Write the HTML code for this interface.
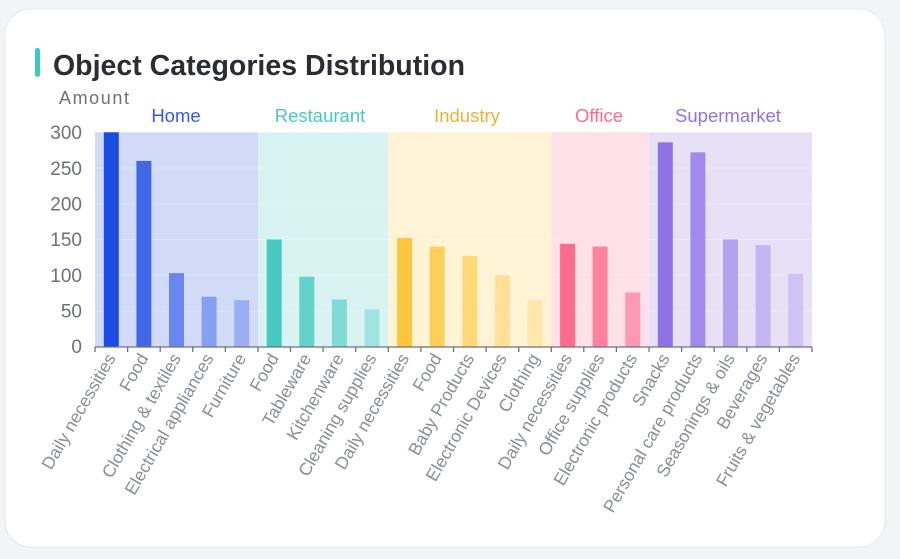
<!DOCTYPE html>
<html><head><meta charset="utf-8"><style>
html,body{margin:0;padding:0;width:900px;height:559px;background:#f3f4f5;overflow:hidden}
svg{display:block;font-family:"Liberation Sans","DejaVu Sans",sans-serif}
</style></head><body>
<svg width="900" height="559" viewBox="0 0 900 559" xmlns="http://www.w3.org/2000/svg">
<rect x="5" y="9" width="880" height="538" rx="26" fill="#fff" stroke="#e6e8ec"/>
<rect x="35" y="48" width="5" height="29" rx="2.5" fill="#3fc8bd"/>
<text x="53" y="75" font-size="28.5" font-weight="bold" fill="#2b2d33" textLength="412">Object Categories Distribution</text>
<text x="59" y="104" font-size="18" fill="#6e7079" textLength="70">Amount</text>
<rect x="95" y="132.3" width="163" height="214.4" fill="#d1dbf8"/>
<rect x="258" y="132.3" width="130.3" height="214.4" fill="#d8f3f2"/>
<rect x="388.3" y="132.3" width="163" height="214.4" fill="#fff3d6"/>
<rect x="551.3" y="132.3" width="97.8" height="214.4" fill="#fde0e8"/>
<rect x="649.1" y="132.3" width="162.9" height="214.4" fill="#e7e1f8"/>
<g stroke="#ffffff" stroke-opacity="0.25">
<line x1="95" x2="812" y1="168" y2="168"/><line x1="95" x2="812" y1="204" y2="204"/><line x1="95" x2="812" y1="239.5" y2="239.5"/><line x1="95" x2="812" y1="275" y2="275"/><line x1="95" x2="812" y1="311" y2="311"/>
</g>
<g font-size="18.5" text-anchor="middle">
<text x="176" y="122" fill="#2f58e6">Home</text>
<text x="320" y="122" fill="#48c9c0">Restaurant</text>
<text x="467" y="122" fill="#e8b23a">Industry</text>
<text x="599" y="122" fill="#ff6a8d">Office</text>
<text x="728" y="122" fill="#8f73e6">Supermarket</text>
</g>
<g font-size="19" fill="#6e7079" text-anchor="end">
<text x="82" y="139">300</text><text x="82" y="175">250</text><text x="82" y="210.5">200</text><text x="82" y="246">150</text><text x="82" y="282">100</text><text x="82" y="317.5">50</text><text x="82" y="353">0</text>
</g>
<g>
<rect x="103.8" y="132.3" width="15" height="214.4" fill="#1a4de3"/>
<rect x="136.4" y="160.9" width="15" height="185.8" fill="#4268e8"/>
<rect x="169" y="273.1" width="15" height="73.6" fill="#6987ee"/>
<rect x="201.6" y="296.7" width="15" height="50" fill="#86a0f1"/>
<rect x="234.2" y="300.2" width="15" height="46.5" fill="#9aaff3"/>
<rect x="266.7" y="239.5" width="15" height="107.2" fill="#48c9c0"/>
<rect x="299.3" y="276.7" width="15" height="70" fill="#63d2ca"/>
<rect x="331.9" y="299.5" width="15" height="47.2" fill="#80dbd5"/>
<rect x="364.5" y="309.5" width="15" height="37.2" fill="#9fe4e0"/>
<rect x="397.1" y="238.1" width="15" height="108.6" fill="#ffc53d"/>
<rect x="429.7" y="246.6" width="15" height="100.1" fill="#ffcf5c"/>
<rect x="462.3" y="255.9" width="15" height="90.8" fill="#ffd87a"/>
<rect x="494.9" y="275.2" width="15" height="71.5" fill="#ffe096"/>
<rect x="527.5" y="300.2" width="15" height="46.5" fill="#ffe6ab"/>
<rect x="560.1" y="243.8" width="15" height="102.9" fill="#ff6a8d"/>
<rect x="592.6" y="246.6" width="15" height="100.1" fill="#ff81a0"/>
<rect x="625.2" y="292.4" width="15" height="54.3" fill="#ff99b3"/>
<rect x="657.8" y="142.3" width="15" height="204.4" fill="#8f73e6"/>
<rect x="690.4" y="152.3" width="15" height="194.4" fill="#a18aeb"/>
<rect x="723" y="239.5" width="15" height="107.2" fill="#b3a2ee"/>
<rect x="755.6" y="245.2" width="15" height="101.5" fill="#c3b5f2"/>
<rect x="788.2" y="273.8" width="15" height="72.9" fill="#cfc3f4"/>
</g>
<g stroke="#6e7079" stroke-width="1.3">
<line x1="95" x2="812" y1="347" y2="347"/>
<line x1="95" x2="95" y1="347" y2="352"/><line x1="127.6" x2="127.6" y1="347" y2="352"/><line x1="160.2" x2="160.2" y1="347" y2="352"/><line x1="192.8" x2="192.8" y1="347" y2="352"/><line x1="225.4" x2="225.4" y1="347" y2="352"/><line x1="258" x2="258" y1="347" y2="352"/><line x1="290.5" x2="290.5" y1="347" y2="352"/><line x1="323.1" x2="323.1" y1="347" y2="352"/><line x1="355.7" x2="355.7" y1="347" y2="352"/><line x1="388.3" x2="388.3" y1="347" y2="352"/><line x1="420.9" x2="420.9" y1="347" y2="352"/><line x1="453.5" x2="453.5" y1="347" y2="352"/><line x1="486.1" x2="486.1" y1="347" y2="352"/><line x1="518.7" x2="518.7" y1="347" y2="352"/><line x1="551.3" x2="551.3" y1="347" y2="352"/><line x1="583.8" x2="583.8" y1="347" y2="352"/><line x1="616.4" x2="616.4" y1="347" y2="352"/><line x1="649.1" x2="649.1" y1="347" y2="352"/><line x1="681.6" x2="681.6" y1="347" y2="352"/><line x1="714.2" x2="714.2" y1="347" y2="352"/><line x1="746.8" x2="746.8" y1="347" y2="352"/><line x1="779.4" x2="779.4" y1="347" y2="352"/><line x1="812" x2="812" y1="347" y2="352"/>
</g>
<g font-size="17.5" fill="#8a8d99" text-anchor="end">
<text transform="translate(116.3,358) rotate(-60)">Daily necessities</text>
<text transform="translate(148.9,358) rotate(-60)">Food</text>
<text transform="translate(181.5,358) rotate(-60)">Clothing &amp; textiles</text>
<text transform="translate(214.1,358) rotate(-60)">Electrical appliances</text>
<text transform="translate(246.7,358) rotate(-60)">Furniture</text>
<text transform="translate(279.2,358) rotate(-60)">Food</text>
<text transform="translate(311.8,358) rotate(-60)">Tableware</text>
<text transform="translate(344.4,358) rotate(-60)">Kitchenware</text>
<text transform="translate(377,358) rotate(-60)">Cleaning supplies</text>
<text transform="translate(409.6,358) rotate(-60)">Daily necessities</text>
<text transform="translate(442.2,358) rotate(-60)">Food</text>
<text transform="translate(474.8,358) rotate(-60)">Baby Products</text>
<text transform="translate(507.4,358) rotate(-60)">Electronic Devices</text>
<text transform="translate(540,358) rotate(-60)">Clothing</text>
<text transform="translate(572.6,358) rotate(-60)">Daily necessities</text>
<text transform="translate(605.1,358) rotate(-60)">Office supplies</text>
<text transform="translate(637.7,358) rotate(-60)">Electronic products</text>
<text transform="translate(670.3,358) rotate(-60)">Snacks</text>
<text transform="translate(702.9,358) rotate(-60)">Personal care products</text>
<text transform="translate(735.5,358) rotate(-60)">Seasonings &amp; oils</text>
<text transform="translate(768.1,358) rotate(-60)">Beverages</text>
<text transform="translate(800.7,358) rotate(-60)">Fruits &amp; vegetables</text>
</g>
</svg>
</body></html>
